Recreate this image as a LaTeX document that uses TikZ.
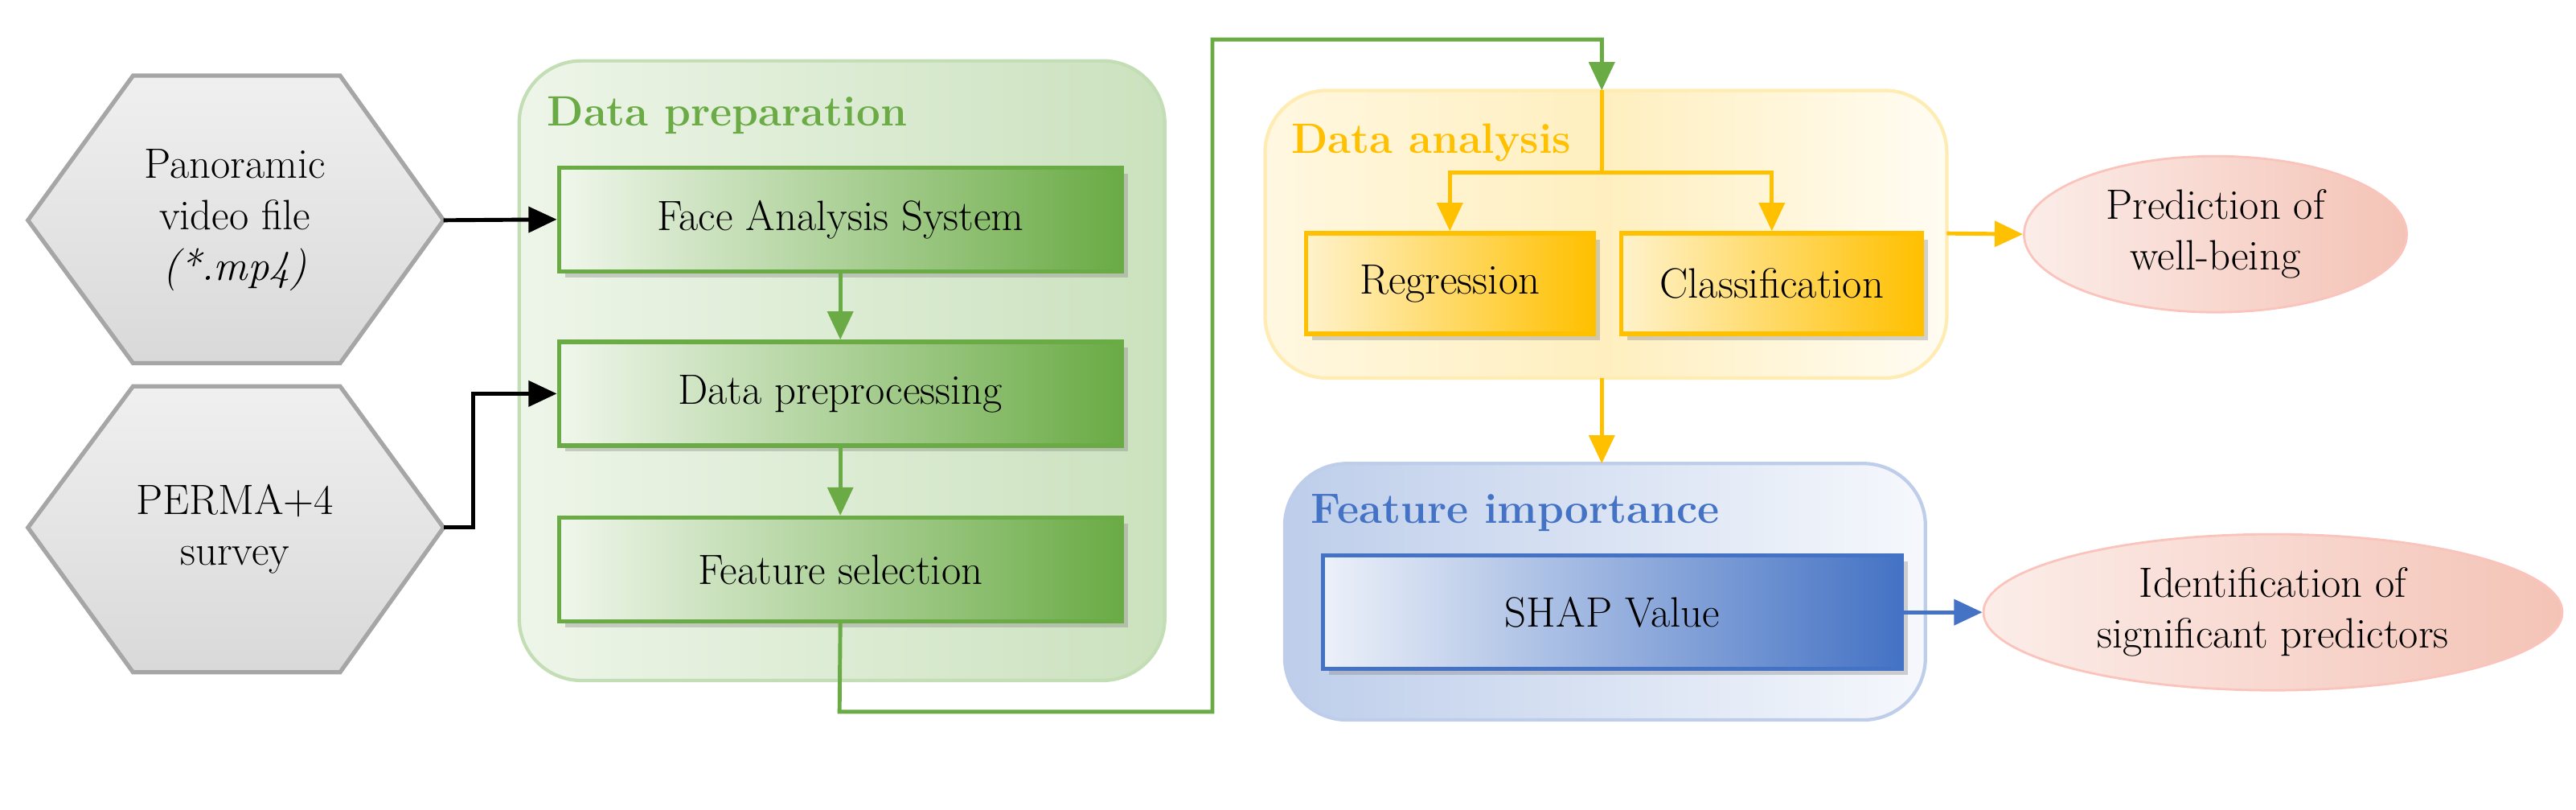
\documentclass[tikz,border=0pt]{standalone}
\usetikzlibrary{arrows.meta,shadows,calc,shapes.geometric}
\definecolor{gdark}{HTML}{6AAB45}
\definecolor{glight}{HTML}{E6F1DF}
\definecolor{ydark}{HTML}{FFC000}
\definecolor{blue1}{HTML}{4472C4}
\definecolor{pinkc}{HTML}{F4C3B6}
\begin{document}
\begin{tikzpicture}[x=0.02043cm,y=-0.02043cm,
  txt/.style={font=\fontsize{15}{18}\selectfont,align=center},
  cont/.style={rounded corners=22pt,line width=1.2pt},
  gbox/.style={draw=gdark,line width=1.5pt,left color=glight!60,right color=gdark,drop shadow={opacity=0.35},txt},
  title/.style={font=\bfseries\fontsize{15}{17}\selectfont,anchor=west},
  hexa/.style={draw=gray!70,line width=1.5pt,top color=gray!12,bottom color=gray!30},
  blk/.style={-{Triangle[length=10pt,width=9pt]},line width=1.4pt},
  gar/.style={-{Triangle[length=10pt,width=9pt]},line width=1.4pt,draw=gdark},
  yar/.style={-{Triangle[length=10pt,width=9pt]},line width=1.4pt,draw=ydark},
  bar/.style={-{Triangle[length=10pt,width=9pt]},line width=1.4pt,draw=blue1},
  ell/.style={ellipse,draw=pinkc!80!red!60,line width=0.8pt,left color=pinkc!30,right color=pinkc,txt}]
\useasboundingbox (0,0) rectangle (1568,492.4);
% hexagons
\draw[hexa] (17,134) -- (81,46) -- (207,46) -- (270,134) -- (207,221) -- (81,221) -- cycle;
\draw[hexa] (17,321) -- (81,235) -- (207,235) -- (270,321) -- (207,409) -- (81,409) -- cycle;
\node[txt] (h1) at (143,134) {Panoramic\\video file\\\textit{(*.mp4)}};
\node[txt] (h2) at (143,322) {PERMA+4\\survey};
\coordinate (h1r) at (270,134);
\coordinate (h2r) at (270,321);
% data preparation
\draw[cont,draw=gdark!40,left color=glight!70,right color=gdark!35] (316,37) rectangle (709,414);
\node[title,text=gdark] (t1) at (327,70) {Data preparation};
\begin{scope}[every node/.style={gbox}]
\node[minimum width=7cm,minimum height=1.29cm] (fa) at (511.5,133.5) {Face Analysis System};
\node[minimum width=7cm,minimum height=1.29cm] (dp) at (511.5,239.5) {Data preprocessing};
\node[minimum width=7cm,minimum height=1.29cm] (fs) at (511.5,346.5) {Feature selection};
\end{scope}
\draw[blk] (h1r) -- (fa.west);
\draw[blk] (h2r) -- (288,321) |- (dp.west);
\draw[gar] (fa) -- (dp);
\draw[gar] (dp) -- (fs);
% data analysis
\draw[cont,draw=ydark!30,left color=ydark!12,right color=ydark!5,middle color=ydark!25] (770,55) rectangle (1185,230);
\node[title,text=ydark] (t2) at (780,87) {Data analysis};
\node[draw=ydark,line width=1.5pt,left color=ydark!20,right color=ydark,drop shadow={opacity=0.35},minimum width=3.58cm,minimum height=1.25cm,txt] (rg) at (882.5,172.5) {Regression};
\node[draw=ydark,line width=1.5pt,left color=ydark!20,right color=ydark,drop shadow={opacity=0.35},minimum width=3.74cm,minimum height=1.25cm,txt] (cl) at (1078.5,172.5) {Classification};
\coordinate (datop) at (975,55);
\coordinate (dabot) at (975,230);
\coordinate (dar) at (1185,142);
\coordinate (br) at (975,105);
\draw[gar] (fs.south) -- (511,433) -| (738,24) -| (datop);
\draw[yar] (datop) -- (br) -| (rg.north);
\draw[yar] (br) -| (cl.north);
% prediction
\node[ell,minimum width=4.76cm,minimum height=1.94cm] (p1) at (1348.5,142.5) {Prediction of\\well-being};
\draw[yar] (dar) -- (p1.west);
% feature importance
\draw[cont,draw=blue1!35,left color=blue1!35,right color=blue1!5] (782,282) rectangle (1172,438);
\node[title,text=blue1] (t3) at (792,312) {Feature importance};
\node[draw=blue1,line width=1.5pt,left color=blue1!10,right color=blue1,drop shadow={opacity=0.35},minimum width=7.2cm,minimum height=1.41cm,txt] (sh) at (981.5,372.5) {SHAP Value};
\coordinate (fitop) at (975,282);
\draw[yar] (dabot) -- (fitop);
\node[ell,minimum width=7.2cm,minimum height=1.94cm] (p2) at (1383.5,372.5) {Identification of\\significant predictors};
\draw[bar] (sh.east) -- (p2.west);
\end{tikzpicture}
\end{document}
